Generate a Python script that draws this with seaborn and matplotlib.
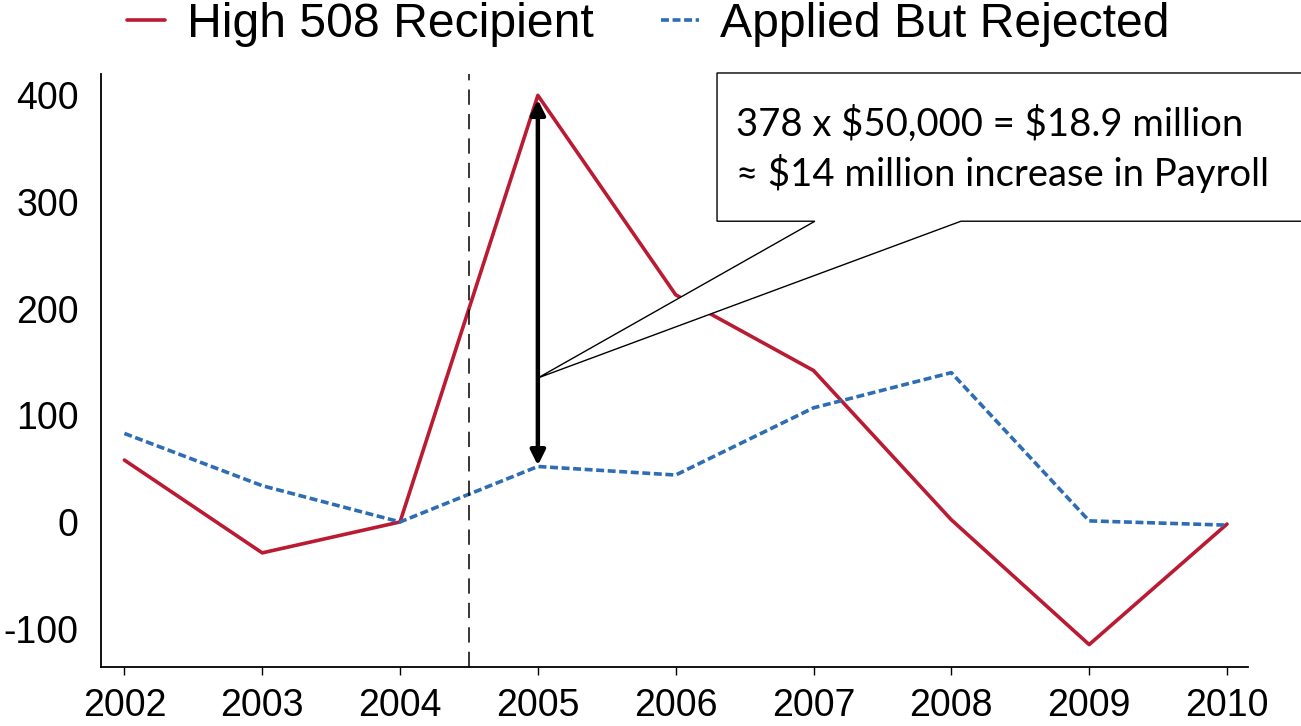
import pandas as pd
import matplotlib
matplotlib.use("Agg")
import matplotlib.pyplot as plt
import seaborn as sns
from matplotlib.patches import Polygon

# values
years = [2002, 2003, 2004, 2005, 2006, 2007, 2008, 2009, 2010]
high_508 = [58, -29, 0, 400, 213, 142, 2, -115, -2]
rejected = [83, 34, 0, 52, 44, 107, 140, 1, -3]
series_names = ["High 508 Recipient", "Applied But Rejected"]
note_lines = [r"378 x \$50,000 = \$18.9 million", "\u2248 \\$14 million increase in Payroll"]

red = "#BA1B33"
blue = "#2E6DB4"

sns.set_style("white")
plt.rcParams["font.family"] = ["Liberation Sans", "DejaVu Sans"]
plt.rcParams["axes.unicode_minus"] = False
plt.rcParams["text.color"] = "black"
plt.rcParams["xtick.color"] = "black"
plt.rcParams["ytick.color"] = "black"

fig = plt.figure(figsize=(13.01, 7.26), dpi=100)
ax = fig.add_axes([0.0776, 0.0813, 0.8814, 0.8167])

df = pd.DataFrame({"year": years, "high": high_508, "rej": rejected})
sns.lineplot(data=df, x="year", y="high", ax=ax, color=red, lw=2.6,
             label=series_names[0])
sns.lineplot(data=df, x="year", y="rej", ax=ax, color=blue, lw=2.6,
             label=series_names[1])
ax.lines[1].set_dashes((2.2, 1.0))

# policy line
ax.axvline(2004.5, color="black", lw=1.1, dashes=(10, 6))

ax.set_xlim(2001.83, 2010.15)
ax.set_ylim(-136, 420)
ax.set_xticks(years)
ax.set_yticks([-100, 0, 100, 200, 300, 400])
ax.set_xlabel("")
ax.set_ylabel("")
ax.tick_params(axis="x", direction="out", length=6, width=1, pad=9, labelsize=27)
ax.tick_params(axis="y", length=0, pad=16, labelsize=27)
ax.xaxis.set_ticks_position("bottom")
sns.despine(ax=ax)
for s in ["left", "bottom"]:
    ax.spines[s].set_color("black")
    ax.spines[s].set_linewidth(1.3)

# gap arrow in 2005
i05 = years.index(2005)
ax.annotate("", xy=(2005, rejected[i05] + 1), xytext=(2005, high_508[i05] - 4),
            arrowprops=dict(arrowstyle="<|-|>", color="black", lw=3.2,
                            mutation_scale=22, shrinkA=0, shrinkB=0))

# callout box
callout = [(2005.0, 135), (2007.01, 282), (2006.30, 282), (2006.30, 421),
           (2011.0, 421), (2011.0, 282), (2008.07, 282)]
ax.add_patch(Polygon(callout, closed=True, facecolor="white", edgecolor="black",
                     lw=1.0, clip_on=False, zorder=5))
ax.text(2006.44, 373, note_lines[0], fontsize=27.5, family="Lato", va="center",
        ha="left", zorder=6)
ax.text(2006.44, 327, note_lines[1], fontsize=27.5, family="Lato", va="center",
        ha="left", zorder=6)

ax.get_legend().remove()
handles, labels = ax.get_legend_handles_labels()
fig.legend(handles[:2], labels[:2], loc="center left", bbox_to_anchor=(0.098, 0.966),
           ncol=2, frameon=False, fontsize=34.7, handlelength=0.78,
           handletextpad=0.45, columnspacing=1.4, borderaxespad=0, borderpad=0)

fig.savefig("out.png", dpi=100)
